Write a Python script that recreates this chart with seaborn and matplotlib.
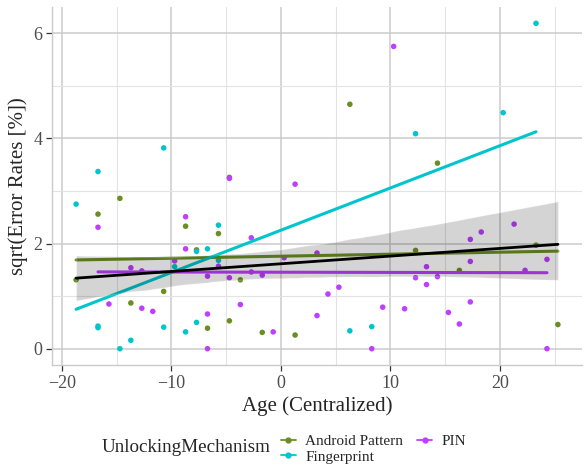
import numpy as np
import pandas as pd
import seaborn as sns
import matplotlib
matplotlib.use("Agg")
import matplotlib.pyplot as plt
from matplotlib.lines import Line2D
from matplotlib.ticker import MultipleLocator

# data
android_x = [-18.7, -16.7, -14.7, -13.7, -10.7, -8.7, -7.7, -6.7, -5.7, -4.7,
             -4.7, -3.7, -1.7, 1.3, 6.3, 12.3, 14.3, 16.3, 23.3, 25.3]
android_y = [1.31, 2.56, 2.86, 0.87, 1.09, 2.33, 1.88, 0.39, 2.19, 0.53,
             3.26, 1.31, 0.31, 0.26, 4.65, 1.87, 3.53, 1.49, 1.97, 0.46]

finger_x = [-18.7, -16.7, -16.7, -16.7, -14.7, -13.7, -10.7, -10.7, -9.7, -8.7,
            -7.7, -7.7, -6.7, -5.7, -5.7, 6.3, 8.3, 12.3, 20.3, 23.3]
finger_y = [2.75, 3.37, 0.43, 0.40, 0.00, 0.16, 3.82, 0.41, 1.56, 0.32,
            1.85, 0.50, 1.90, 2.35, 1.68, 0.34, 0.42, 4.09, 4.49, 6.19]

pin_x = [-16.7, -15.7, -13.7, -12.7, -12.7, -11.7, -9.7, -8.7, -8.7, -6.7,
         -6.7, -6.7, -5.7, -4.7, -4.7, -3.7, -2.7, -2.7, -1.7, -0.7,
         0.3, 1.3, 3.3, 3.3, 4.3, 5.3, 8.3, 9.3, 10.3, 11.3,
         12.3, 13.3, 13.3, 14.3, 15.3, 16.3, 17.3, 17.3, 17.3, 18.3,
         21.3, 22.3, 24.3, 24.3]
pin_y = [2.31, 0.85, 1.54, 1.48, 0.77, 0.71, 1.67, 2.51, 1.90, 1.38,
         0.66, 0.00, 1.57, 3.24, 1.35, 0.84, 2.11, 1.46, 1.40, 0.32,
         1.73, 3.13, 1.82, 0.63, 1.04, 1.17, 0.00, 0.79, 5.75, 0.76,
         1.35, 1.56, 1.22, 1.37, 0.69, 0.47, 2.08, 1.66, 0.89, 2.22,
         2.37, 1.49, 1.70, 0.00]

groups = ["Android Pattern", "Fingerprint", "PIN"]
colors = {"Android Pattern": "#6B8E23", "Fingerprint": "#00C5CD", "PIN": "#BF3EFF"}

df = pd.concat([
    pd.DataFrame({"age": android_x, "err": android_y, "mech": "Android Pattern"}),
    pd.DataFrame({"age": finger_x, "err": finger_y, "mech": "Fingerprint"}),
    pd.DataFrame({"age": pin_x, "err": pin_y, "mech": "PIN"}),
], ignore_index=True)

sns.set_style("white")
plt.rcParams["font.family"] = ["Liberation Serif", "DejaVu Serif"]
serif = ["Liberation Serif", "DejaVu Serif"]

fig = plt.figure(figsize=(5.84, 4.68), dpi=100)
ax = fig.add_axes([52 / 584, 1 - 365 / 468, 530 / 584, 358 / 468])

sns.scatterplot(data=df, x="age", y="err", hue="mech", palette=colors,
                s=16, linewidth=0, legend=False, ax=ax, zorder=2)

for g in groups:
    sub = df[df["mech"] == g]
    sns.regplot(data=sub, x="age", y="err", scatter=False, ci=None,
                color=colors[g], line_kws={"lw": 2.2, "zorder": 3}, ax=ax)

n_before = len(ax.collections)
sns.regplot(data=df, x="age", y="err", scatter=False, ci=95, color="black",
            line_kws={"lw": 2.0, "zorder": 5}, ax=ax)
for c in ax.collections[n_before:]:
    c.set_zorder(4)
    c.set_alpha(0.17)

ax.set_xlim(-20.9, 27.5)
ax.set_ylim(-0.31, 6.5)
ax.xaxis.set_major_locator(MultipleLocator(10))
ax.xaxis.set_minor_locator(MultipleLocator(5))
ax.yaxis.set_major_locator(MultipleLocator(2))
ax.yaxis.set_minor_locator(MultipleLocator(1))
ax.grid(which="major", color="#CBCBCB", lw=1.1, zorder=0)
ax.grid(which="minor", color="#E3E3E3", lw=0.8, zorder=0)
ax.set_axisbelow(True)

for s in ["top", "right"]:
    ax.spines[s].set_visible(False)
for s in ["left", "bottom"]:
    ax.spines[s].set_color("#CBCBCB")
    ax.spines[s].set_linewidth(1.0)

ax.tick_params(which="major", length=4, width=0.9, color="#333333",
               labelsize=13, labelcolor="#4D4D4D", pad=3, left=True, bottom=True)
ax.tick_params(which="minor", length=0)

ax.set_xlabel("Age (Centralized)", fontsize=15, labelpad=3)
ax.set_ylabel("sqrt(Error Rates [%])", fontsize=15, labelpad=4)

handles = [Line2D([0], [0], color=colors[g], lw=1.3, marker="o", ms=3.5)
           for g in groups]
fig.legend(handles, groups, loc="center left", bbox_to_anchor=(267 / 584, 1 - 449 / 468),
           ncol=2, frameon=False, prop={"family": serif, "size": 11},
           handlelength=1.0, handletextpad=0.6, columnspacing=0.9, labelspacing=0.15)
fig.text(102 / 584, 1 - 448 / 468, "UnlockingMechanism", fontsize=13.7,
         family=serif, ha="left", va="center")

fig.savefig("out.png", dpi=100)
